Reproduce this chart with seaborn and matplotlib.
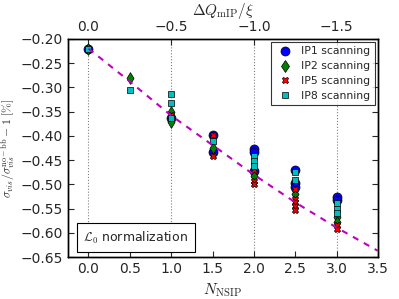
import numpy as np
import pandas as pd
import seaborn as sns
import matplotlib
matplotlib.use("Agg")
import matplotlib.pyplot as plt
from matplotlib.lines import Line2D

# values
ip1_n = [0, 1, 1.5, 1.5, 2, 2, 2, 2.5, 2.5, 2.5, 3, 3]
ip1_y = [-0.22, -0.364, -0.398, -0.433, -0.428, -0.434, -0.473, -0.470, -0.498, -0.505, -0.527, -0.532]
ip2_n = [0, 0.5, 1, 1, 1.5, 2, 2.5, 3, 3]
ip2_y = [-0.22, -0.28, -0.35, -0.371, -0.425, -0.483, -0.520, -0.568, -0.577]
ip5_n = [0, 1, 1.5, 1.5, 2, 2, 2, 2.5, 2.5, 2.5, 2.5, 2.5, 3, 3]
ip5_y = [-0.22, -0.357, -0.398, -0.441, -0.470, -0.492, -0.499, -0.510, -0.530, -0.537, -0.545, -0.553, -0.584, -0.593]
ip8_n = [0, 0.5, 1, 1, 1, 1.5, 2, 2, 2, 2.5, 2.5, 3, 3, 3]
ip8_y = [-0.22, -0.305, -0.314, -0.333, -0.364, -0.411, -0.441, -0.451, -0.462, -0.474, -0.491, -0.539, -0.550, -0.559]

# model curve
fit_n = [0, 0.5, 1.0, 1.5, 2.0, 2.5, 3.0, 3.5]
fit_y = [-0.22, -0.288, -0.358, -0.419, -0.480, -0.537, -0.589, -0.637]

top_ticks = [0.0, -0.5, -1.0, -1.5]

sns.set_style("ticks")
plt.rcParams["font.family"] = ["DejaVu Sans"]
plt.rcParams["mathtext.fontset"] = "cm"
plt.rcParams["xtick.direction"] = "in"
plt.rcParams["ytick.direction"] = "in"

fig = plt.figure(figsize=(3.99, 2.99), dpi=100)
ax = fig.add_axes([0.170, 0.140, 0.777, 0.730])

series = [
    ("IP1 scanning", ip1_n, ip1_y, "o", "b", 6.5),
    ("IP2 scanning", ip2_n, ip2_y, "d", "g", 6),
    ("IP5 scanning", ip5_n, ip5_y, "X", "r", 4.5),
    ("IP8 scanning", ip8_n, ip8_y, "s", "c", 4.5),
]

fit = pd.DataFrame({"n": fit_n, "y": fit_y})
sns.lineplot(data=fit, x="n", y="y", ax=ax, color="m", linewidth=1.5, zorder=3,
             dashes=False)
ax.lines[-1].set_dashes((3, 3))

handles = []
for label, n, y, mk, col, ms in series:
    df = pd.DataFrame({"n": n, "y": y})
    sns.scatterplot(data=df, x="n", y="y", ax=ax, marker=mk, color=col,
                    s=ms ** 2, edgecolor="k", linewidth=0.5, zorder=2)
    handles.append(Line2D([], [], linestyle="none", marker=mk, color=col,
                          markeredgecolor="k", markeredgewidth=0.5, markersize=ms, label=label))

ax.set_xlim(-0.25, 3.5)
ax.set_ylim(-0.65, -0.20)
ax.set_xticks(np.arange(0, 3.51, 0.5))
ax.set_yticks(np.arange(-0.65, -0.199, 0.05))
ax.set_yticklabels([f"{v:.2f}".replace("-", "\u2212") for v in np.arange(-0.65, -0.199, 0.05)])
ax.tick_params(labelsize=10, right=True, length=4)
ax.set_xlabel(r"$N_{\rm NSIP}$", fontsize=11)
ax.set_ylabel(r"$\sigma_{vis}/\sigma_{vis}^{\rm no-bb}-1\ [\%]$", fontsize=8.5, labelpad=2)

ax2 = ax.twiny()
ax2.set_xlim(ax.get_xlim())
ax2.set_xticks([-t * 2 for t in top_ticks])
ax2.set_xticklabels([f"{t:.1f}".replace("-", "\u2212") for t in top_ticks])
ax2.tick_params(labelsize=10, direction="in", length=4)
ax2.set_xlabel(r"$\Delta Q_{\rm mIP}/\xi$", fontsize=11, labelpad=2)
ax2.xaxis.set_label_coords(0.5, 1.11)
ax2.grid(axis="x", color="gray", linestyle=":", linewidth=0.8)
ax2.set_zorder(-1)
ax.patch.set_visible(False)

for a in (ax, ax2):
    for s in a.spines.values():
        s.set_linewidth(1.0)
        s.set_color("k")

leg = ax.legend(handles=handles, loc="upper right", fontsize=7.8, frameon=True,
                fancybox=False, edgecolor="k", handletextpad=0.6, borderpad=0.4,
                labelspacing=0.45, handlelength=1.8, borderaxespad=0.3)
leg.get_frame().set_linewidth(0.8)

ax.text(0.05, 0.09, r"$\mathcal{L}_0$ normalization", transform=ax.transAxes, fontsize=9,
        ha="left", va="center",
        bbox=dict(boxstyle="square,pad=0.5", facecolor="white", edgecolor="k", linewidth=0.8))

fig.savefig("out.png", dpi=100)
